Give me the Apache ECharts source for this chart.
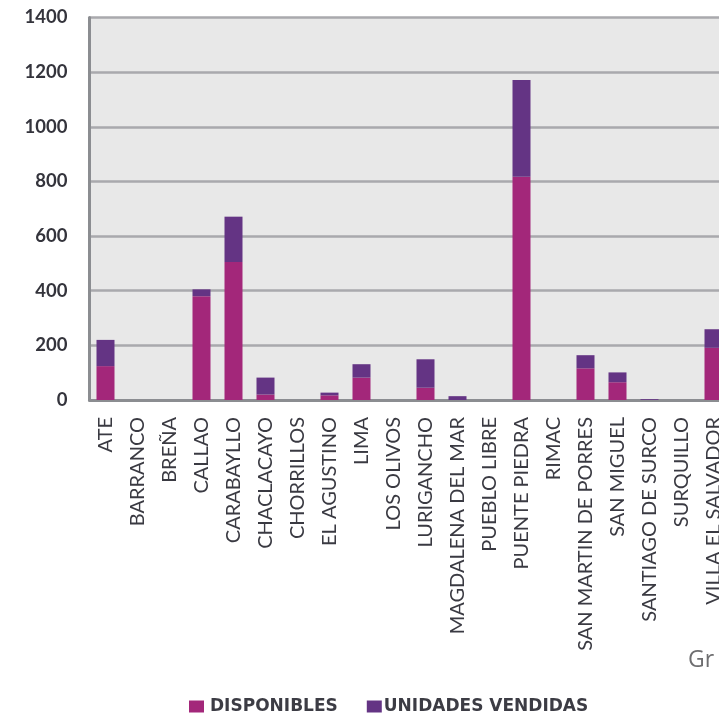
<!DOCTYPE html>
<html>
<head>
<meta charset="utf-8">
<script src="https://cdn.jsdelivr.net/npm/echarts@6/dist/echarts.min.js"></script>
<style>
  html, body { margin: 0; padding: 0; background: #ffffff; overflow: hidden; }
  /* the plot runs on past the right edge of the window */
  #chart { width: 740px; height: 720px; }
</style>
</head>
<body>
<div id="chart"></div>
<script>
// Districts along the x axis
const districts = [
  'ATE', 'BARRANCO', 'BREÑA', 'CALLAO', 'CARABAYLLO', 'CHACLACAYO',
  'CHORRILLOS', 'EL AGUSTINO', 'LIMA', 'LOS OLIVOS', 'LURIGANCHO',
  'MAGDALENA DEL MAR', 'PUEBLO LIBRE', 'PUENTE PIEDRA', 'RIMAC',
  'SAN MARTIN DE PORRES', 'SAN MIGUEL', 'SANTIAGO DE SURCO', 'SURQUILLO',
  'VILLA EL SALVADOR'
];

// Units still available per district
const disponibles = [
  124, 0, 0, 380, 505, 20,
  0, 17, 82, 0, 45,
  0, 0, 817, 0,
  116, 65, 0, 0,
  191
];

// Units already sold per district
const vendidas = [
  96, 0, 0, 25, 166, 62,
  0, 10, 49, 0, 104,
  14, 0, 354, 0,
  48, 36, 3, 0,
  68
];

// Value axis ticks
const yTicks = [0, 200, 400, 600, 800, 1000, 1200, 1400];

const chart = echarts.init(document.getElementById('chart'), null, { renderer: 'canvas' });

chart.setOption({
  animation: false,
  backgroundColor: '#ffffff',
  grid: {
    left: 89.5,
    top: 17.5,
    width: 640,
    height: 382.5,
    show: true,
    backgroundColor: '#e8e8e8',
    borderWidth: 0
  },
  legend: {
    top: 693,
    left: 184,
    itemWidth: 15,
    itemHeight: 12,
    itemGap: 29,
    icon: 'rect',
    textStyle: {
      fontFamily: 'DejaVu Sans',
      fontWeight: 'bold',
      fontSize: 17,
      color: '#3c3c44'
    },
    data: [
      { name: 'DISPONIBLES', textStyle: { padding: [0, 0, 0, 1] } },
      { name: 'UNIDADES VENDIDAS', textStyle: { padding: [0, 0, 0, -3] } }
    ]
  },
  xAxis: {
    type: 'category',
    data: districts,
    boundaryGap: true,
    axisTick: { show: false },
    axisLine: { show: true, lineStyle: { color: '#8b8d91', width: 3 } },
    axisLabel: {
      interval: 0,
      rotate: 90,
      margin: 17,
      fontFamily: 'Lato',
      fontSize: 20,
      color: '#3a3a42'
    }
  },
  yAxis: {
    type: 'value',
    min: yTicks[0],
    max: yTicks[yTicks.length - 1],
    interval: yTicks[1] - yTicks[0],
    axisLine: { show: true, lineStyle: { color: '#8b8d91', width: 3 } },
    axisTick: { show: false },
    splitLine: { show: true, lineStyle: { color: '#a9a9ad', width: 2.5 } },
    axisLabel: {
      margin: 22,
      fontFamily: 'Lato',
      fontWeight: 'bold',
      fontSize: 18.5,
      color: '#34343c',
      formatter: (v) => String(v)
    }
  },
  series: [
    {
      name: 'DISPONIBLES',
      type: 'bar',
      stack: 'total',
      barWidth: 18,
      data: disponibles,
      itemStyle: { color: '#a3277a' }
    },
    {
      name: 'UNIDADES VENDIDAS',
      type: 'bar',
      stack: 'total',
      barWidth: 18,
      data: vendidas,
      itemStyle: { color: '#643484' }
    }
  ],
  graphic: [
    {
      type: 'text',
      left: 688,
      top: 649,
      style: {
        text: 'Gr',
        fontFamily: 'Open Sans',
        fontSize: 23,
        fill: '#6e6e70'
      }
    }
  ]
});
</script>
</body>
</html>
